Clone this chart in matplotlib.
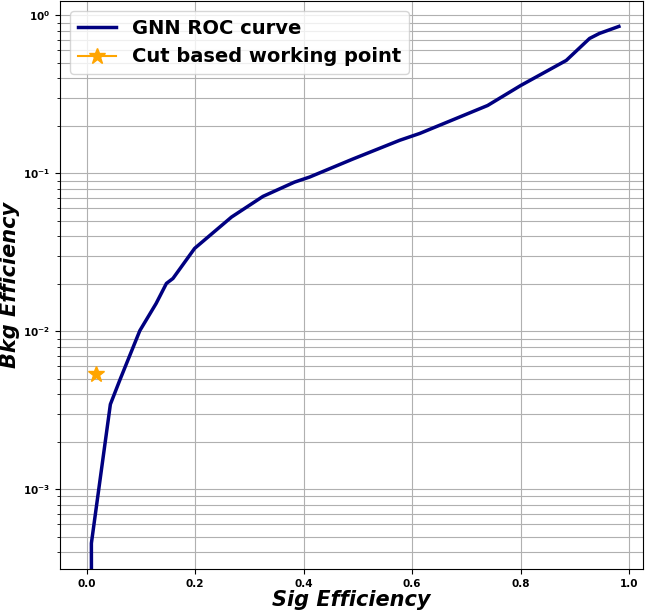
import matplotlib
matplotlib.use('Agg')
from matplotlib import pyplot as plt
import numpy as np

# ROC curve
sig_eff = [0.009, 0.0087, 0.0437, 0.061, 0.098, 0.128, 0.147, 0.159, 0.199, 0.267,
           0.325, 0.383, 0.411, 0.49, 0.577, 0.614, 0.739, 0.80, 0.884, 0.927, 0.945, 0.981]
bkg_eff = [1e-4, 4.55e-4, 3.45e-3, 4.9e-3, 0.0101, 0.015, 0.0201, 0.0216, 0.0335, 0.0529,
           0.0715, 0.088, 0.0948, 0.123, 0.162, 0.179, 0.269, 0.36, 0.519, 0.715, 0.769, 0.852]

# cut based working point
wp_sig = [0.0166]
wp_bkg = [5.34e-3]

fig = plt.figure(figsize=(6.46, 6.12), dpi=100)
ax = fig.add_axes([0.093, 0.070, 0.902, 0.928])

ax.plot(sig_eff, bkg_eff, color='navy', lw=2.5, label='GNN ROC curve')
ax.plot(wp_sig, wp_bkg, marker='*', color='orange', markersize=12, label='Cut based working point')

ax.set_yscale('log')
ax.set_xlim(-0.049, 1.025)
ax.set_ylim(3.12e-4, 1.23)
ax.grid(True, which='both', color='#b0b0b0', lw=0.8)

ax.set_xlabel('Sig Efficiency', fontsize=15, fontweight='bold', fontstyle='italic')
ax.set_ylabel('Bkg Efficiency', fontsize=15, fontweight='bold', fontstyle='italic')
ax.xaxis.set_label_coords(0.5, -0.037)
ax.yaxis.set_label_coords(-0.069, 0.5)
ax.tick_params(labelsize=7.5)
for lab in ax.get_xticklabels() + ax.get_yticklabels():
    lab.set_fontweight('bold')

leg = ax.legend(loc='upper left', prop={'size': 14, 'weight': 'bold'})

fig.savefig('out.png', dpi=100)
